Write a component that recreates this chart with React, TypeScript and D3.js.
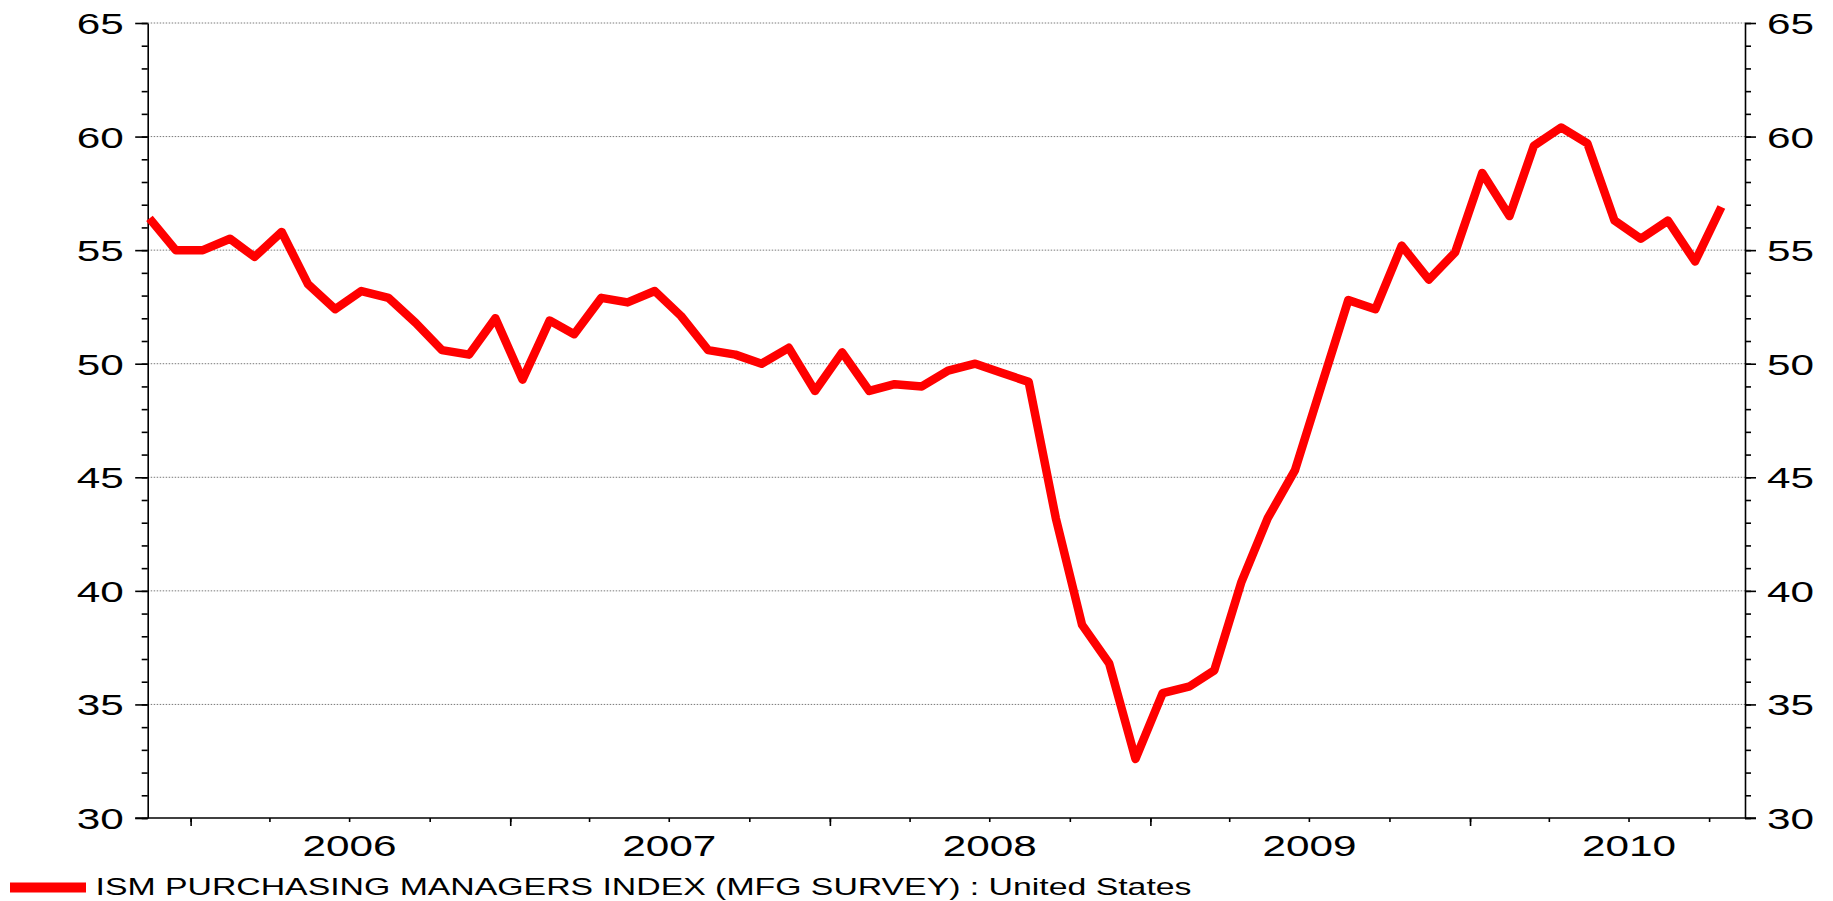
import { useEffect, useRef } from "react";
import * as d3 from "d3";

const W = 1833;
const H = 901;

// ISM manufacturing PMI, monthly, first reading is Nov 2005
const firstMonth = new Date(2005, 10, 15);
const pmi = [
  56.4, 55.0, 55.0, 55.5, 54.7, 55.8, 53.5, 52.4, 53.2, 52.9, 51.8, 50.6,
  50.4, 52.0, 49.3, 51.9, 51.3, 52.9, 52.7, 53.2, 52.1, 50.6, 50.4, 50.0,
  50.7, 48.8, 50.5, 48.8, 49.1, 49.0, 49.7, 50.0, 49.6, 49.2, 43.2, 38.5,
  36.8, 32.6, 35.5, 35.8, 36.5, 40.4, 43.2, 45.3, 49.0, 52.8, 52.4, 55.2,
  53.7, 54.9, 58.4, 56.5, 59.6, 60.4, 59.7, 56.3, 55.5, 56.3, 54.5, 56.9,
];
const yearLabels = ["2006", "2007", "2008", "2009", "2010"];
const yMajor = [30, 35, 40, 45, 50, 55, 60, 65];
const legendLabel = "ISM PURCHASING MANAGERS INDEX (MFG SURVEY) : United States";

const FONT = "'Liberation Sans', Arial, sans-serif";

export default function App() {
  const ref = useRef<SVGSVGElement>(null);

  useEffect(() => {
    const svg = d3.select(ref.current);
    svg.selectAll("*").remove();

    const left = 147.7;
    const right = 1745;
    const top = 23;
    const bottom = 818;

    const x = d3
      .scaleTime()
      .domain([new Date(2005, 10, 13), new Date(2010, 10, 11)])
      .range([left, right]);
    const y = d3.scaleLinear().domain([30, 65]).range([bottom, top]);

    const data = pmi.map((v, i) => ({
      date: d3.timeMonth.offset(firstMonth, i),
      value: v,
    }));

    // dotted grid
    svg
      .append("g")
      .selectAll("line")
      .data(yMajor.filter((d) => d > 30))
      .join("line")
      .attr("x1", left)
      .attr("x2", right)
      .attr("y1", (d) => y(d))
      .attr("y2", (d) => y(d))
      .attr("stroke", "#7a7a7a")
      .attr("stroke-width", 1)
      .attr("stroke-dasharray", "1.5 1.5");

    const styleAxis = (g) => {
      g.selectAll("line").attr("stroke", "#000").attr("stroke-width", 1.6);
      g.selectAll("path").attr("stroke", "#000").attr("stroke-width", 1.6);
    };

    // left axis: minor then major
    svg
      .append("g")
      .attr("transform", `translate(${left},0)`)
      .call(d3.axisLeft(y).tickValues(d3.range(30, 66, 1)).tickSize(6).tickFormat(() => ""))
      .call((g) => g.select(".domain").remove())
      .call(styleAxis);
    const yl = svg
      .append("g")
      .attr("transform", `translate(${left},0)`)
      .call(d3.axisLeft(y).tickValues(yMajor).tickSize(12.5).tickSizeOuter(0))
      .call(styleAxis);

    // right axis
    svg
      .append("g")
      .attr("transform", `translate(${right},0)`)
      .call(d3.axisRight(y).tickValues(d3.range(30, 66, 1)).tickSize(6).tickFormat(() => ""))
      .call((g) => g.select(".domain").remove())
      .call(styleAxis);
    const yr = svg
      .append("g")
      .attr("transform", `translate(${right},0)`)
      .call(d3.axisRight(y).tickValues(yMajor).tickSize(11).tickSizeOuter(0))
      .call(styleAxis);

    [yl, yr].forEach((g, k) => {
      g.selectAll("text")
        .attr("x", k === 0 ? -24 : 22)
        .attr("dy", "0.36em")
        .attr("font-family", FONT)
        .attr("font-size", 29)
        .attr("fill", "#000")
        .attr("textLength", (d) => String(d).length * 23.5)
        .attr("lengthAdjust", "spacingAndGlyphs");
    });

    // bottom axis: quarter ticks, year ticks, year labels
    svg
      .append("g")
      .attr("transform", `translate(0,${bottom})`)
      .call(
        d3
          .axisBottom(x)
          .tickValues(d3.timeMonth.every(3).range(new Date(2005, 11, 1), new Date(2010, 10, 11)))
          .tickSize(4)
          .tickSizeOuter(0)
          .tickFormat(() => "")
      )
      .call((g) => g.select(".domain").remove())
      .call(styleAxis);
    svg
      .append("g")
      .attr("transform", `translate(0,${bottom})`)
      .call(
        d3
          .axisBottom(x)
          .tickValues(d3.timeYear.range(new Date(2006, 0, 1), new Date(2010, 11, 31)))
          .tickSize(8)
          .tickSizeOuter(0)
          .tickFormat(() => "")
      )
      .call((g) => g.select(".domain").remove())
      .call(styleAxis);
    svg
      .append("line")
      .attr("x1", left - 12.5)
      .attr("x2", right + 11)
      .attr("y1", bottom)
      .attr("y2", bottom)
      .attr("stroke", "#000")
      .attr("stroke-width", 1.6);

    const xl = svg
      .append("g")
      .attr("transform", `translate(0,${bottom})`)
      .call(
        d3
          .axisBottom(x)
          .tickValues(yearLabels.map((s) => new Date(+s, 6, 1)))
          .tickSize(0)
          .tickFormat(d3.timeFormat("%Y"))
      );
    xl.select(".domain").remove();
    xl.selectAll("text")
      .attr("y", 38)
      .attr("dy", null)
      .attr("font-family", FONT)
      .attr("font-size", 29)
      .attr("fill", "#000")
      .attr("textLength", 94)
      .attr("lengthAdjust", "spacingAndGlyphs");

    // series
    const line = d3
      .line<{ date: Date; value: number }>()
      .x((d) => x(d.date))
      .y((d) => y(d.value));
    svg
      .append("path")
      .datum(data)
      .attr("d", line)
      .attr("fill", "none")
      .attr("stroke", "#ff0000")
      .attr("stroke-width", 8.5)
      .attr("stroke-linejoin", "round");

    // legend
    const lg = svg.append("g");
    lg.append("line")
      .attr("x1", 10)
      .attr("x2", 86)
      .attr("y1", 887.5)
      .attr("y2", 887.5)
      .attr("stroke", "#ff0000")
      .attr("stroke-width", 10);
    lg.append("text")
      .attr("x", 95.5)
      .attr("y", 895)
      .attr("font-family", FONT)
      .attr("font-size", 24)
      .attr("fill", "#000")
      .attr("textLength", 1096)
      .attr("lengthAdjust", "spacingAndGlyphs")
      .text(legendLabel);
  }, []);

  return (
    <div style={{ position: "fixed", left: 0, top: 0 }}>
      <svg ref={ref} width={W} height={H} style={{ display: "block", background: "#fff" }} />
    </div>
  );
}
